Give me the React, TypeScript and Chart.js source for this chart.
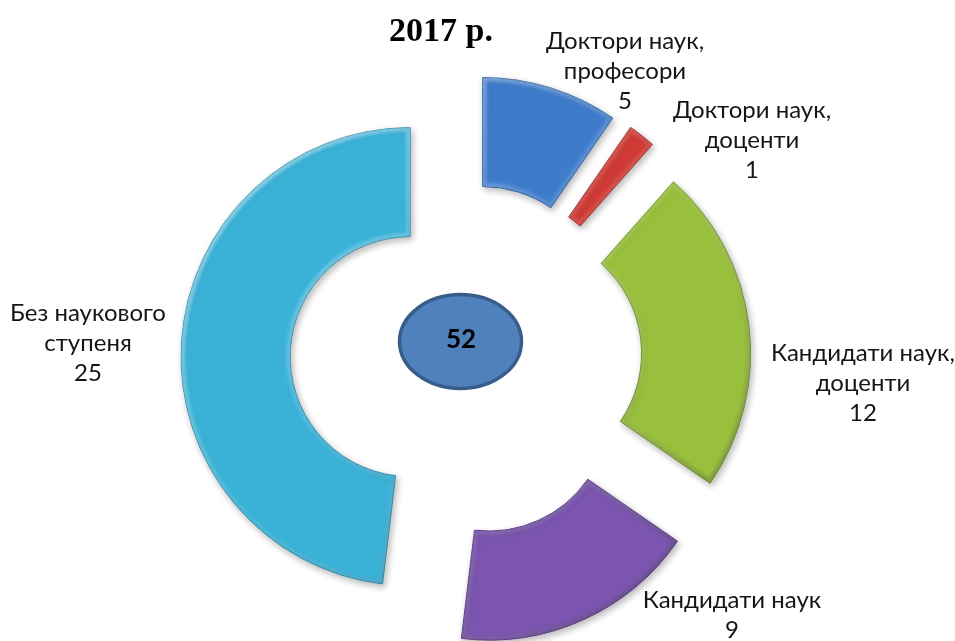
import React, { useEffect, useRef } from 'react';
import { Chart, registerables } from 'chart.js';

Chart.register(...registerables);

// ---- data ----
const categories = [
  'Доктори наук,\nпрофесори',
  'Доктори наук,\nдоценти',
  'Кандидати наук,\nдоценти',
  'Кандидати наук',
  'Без наукового\nступеня',
];
const values = [5, 1, 12, 9, 25];
const titleText = '2017 р.';

// ---- styles / layout ----
const fillColors = ['#3e7ccb', '#cf3a35', '#98c03c', '#7b55b0', '#3ab2d8'];
const edgeColors = ['#2c5d9e', '#9e2522', '#6f9227', '#5a3b87', '#2889a8'];
const EXPLODE = 56;
const LABEL_FONT = '24px Lato, "Open Sans", sans-serif';
const LINE_H = 30;
const labelAnchors = [
  { x: 625, y: 41 },
  { x: 752, y: 110 },
  { x: 863, y: 353 },
  { x: 732, y: 600 },
  { x: 88, y: 313 },
];

const explodePlugin = {
  id: 'explodeArcs',
  beforeDatasetDraw(chart: any, args: any) {
    const ctx: CanvasRenderingContext2D = chart.ctx;
    args.meta.data.forEach((arc: any) => {
      const p = arc.getProps(['x', 'y', 'startAngle', 'endAngle', 'innerRadius', 'outerRadius']);
      const mid = (p.startAngle + p.endAngle) / 2;
      const dx = Math.cos(mid) * EXPLODE;
      const dy = Math.sin(mid) * EXPLODE;
      // body with soft shadow
      ctx.save();
      ctx.translate(dx, dy);
      ctx.shadowColor = 'rgba(0,0,0,0.28)';
      ctx.shadowBlur = 7;
      ctx.shadowOffsetX = 2;
      ctx.shadowOffsetY = 3;
      arc.draw(ctx);
      ctx.restore();
      // bevel
      ctx.save();
      ctx.translate(dx, dy);
      ctx.beginPath();
      ctx.arc(p.x, p.y, p.outerRadius, p.startAngle, p.endAngle);
      ctx.arc(p.x, p.y, p.innerRadius, p.endAngle, p.startAngle, true);
      ctx.closePath();
      ctx.clip();
      const g = ctx.createLinearGradient(p.x - p.outerRadius, p.y - p.outerRadius, p.x + p.outerRadius, p.y + p.outerRadius);
      g.addColorStop(0, 'rgba(255,255,255,0.5)');
      g.addColorStop(0.5, 'rgba(255,255,255,0.1)');
      g.addColorStop(1, 'rgba(0,0,0,0.35)');
      ctx.strokeStyle = g;
      ctx.lineWidth = 8;
      ctx.lineJoin = 'round';
      (ctx as any).filter = 'blur(1.5px)';
      ctx.stroke();
      ctx.restore();
    });
    return false;
  },
  afterDraw(chart: any) {
    const ctx: CanvasRenderingContext2D = chart.ctx;
    ctx.save();
    // title
    ctx.fillStyle = '#000';
    ctx.font = 'bold 34px "Liberation Serif", "Times New Roman", serif';
    ctx.textAlign = 'center';
    ctx.textBaseline = 'alphabetic';
    ctx.fillText(titleText, 441, 41);
    // labels
    ctx.font = LABEL_FONT;
    ctx.fillStyle = '#151515';
    ctx.textBaseline = 'middle';
    categories.forEach((c, i) => {
      const lines = c.split('\n').concat(String(values[i]));
      lines.forEach((ln, k) => {
        ctx.fillText(ln, labelAnchors[i].x, labelAnchors[i].y + k * LINE_H);
      });
    });
    // center ellipse
    const total = values.reduce((a, b) => a + b, 0);
    ctx.beginPath();
    ctx.ellipse(460.5, 341.5, 61, 47, 0, 0, Math.PI * 2);
    ctx.fillStyle = '#4f81bd';
    ctx.fill();
    ctx.lineWidth = 3.5;
    ctx.strokeStyle = '#385d8a';
    ctx.stroke();
    ctx.fillStyle = '#000';
    ctx.font = 'bold 26px Lato, "Open Sans", sans-serif';
    ctx.fillText(String(total), 461, 340);
    ctx.restore();
  },
};

export default function App() {
  const ref = useRef<HTMLCanvasElement>(null);
  useEffect(() => {
    const chart = new Chart(ref.current!, {
      type: 'doughnut',
      data: {
        labels: categories.map((c) => c.replace('\n', ' ')),
        datasets: [
          {
            data: values,
            backgroundColor: fillColors,
            borderColor: edgeColors,
            borderWidth: 1,
            clip: false as any,
          },
        ],
      },
      options: {
        animation: false,
        responsive: true,
        maintainAspectRatio: false,
        radius: 229,
        cutout: '52.4%',
        layout: { padding: { left: 0, right: 23, top: 79, bottom: 0 } },
        plugins: {
          legend: { display: false },
          title: { display: false },
          tooltip: { enabled: false },
        },
        events: [],
      } as any,
      plugins: [explodePlugin],
    });
    return () => chart.destroy();
  }, []);
  return (
    <div style={{ position: 'absolute', left: 0, top: 0, width: 955, height: 641, background: '#fff' }}>
      <canvas ref={ref} />
    </div>
  );
}
